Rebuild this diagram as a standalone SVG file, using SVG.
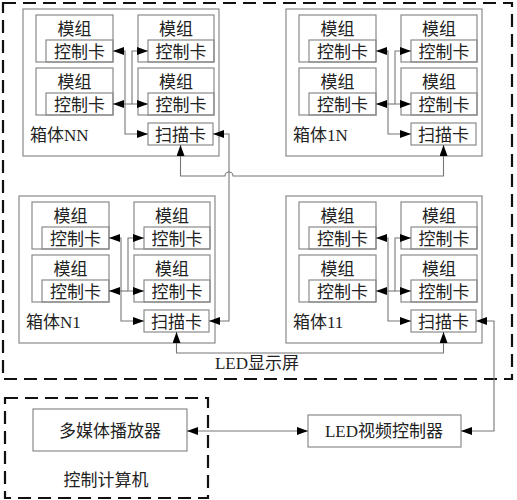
<svg xmlns="http://www.w3.org/2000/svg" width="517" height="500" viewBox="0 0 517 500">
<defs>
<style>
.bg{fill:#fff}
.box{fill:none;stroke:#8a8a8a;stroke-width:1.2}
.dash{fill:none;stroke:#111;stroke-width:2.2;stroke-dasharray:13 7}
.ln{fill:none;stroke:#777;stroke-width:1.1}
.arr{marker-end:url(#ah)}
.arr2{marker-start:url(#ah);marker-end:url(#ah)}
text{font-family:"Liberation Serif","Noto Sans CJK SC",serif;font-size:17px;fill:#222}
.c{text-anchor:middle}
</style>
<marker id="ah" viewBox="0 0 11 8" refX="11" refY="4" markerWidth="11" markerHeight="8" markerUnits="userSpaceOnUse" orient="auto-start-reverse">
<path d="M0,0 L11,4 L0,8 z" fill="#000"/>
</marker>
<g id="cabinet">
<rect class="box" x="23" y="9" width="196" height="147"/>
<rect class="box" x="36" y="15" width="77" height="47"/>
<rect class="box" x="46" y="40" width="67" height="22"/>
<rect class="box" x="138" y="15" width="76" height="47"/>
<rect class="box" x="148" y="40" width="66" height="22"/>
<rect class="box" x="36" y="68" width="77" height="47"/>
<rect class="box" x="46" y="93" width="67" height="22"/>
<rect class="box" x="138" y="68" width="76" height="47"/>
<rect class="box" x="148" y="93" width="66" height="22"/>
<rect class="box" x="148" y="123" width="65" height="22"/>
<text class="c" x="74.5" y="34.5">模组</text>
<text class="c" x="79.5" y="57.5">控制卡</text>
<text class="c" x="176" y="34.5">模组</text>
<text class="c" x="181" y="57.5">控制卡</text>
<text class="c" x="74.5" y="87.5">模组</text>
<text class="c" x="79.5" y="110.5">控制卡</text>
<text class="c" x="176" y="87.5">模组</text>
<text class="c" x="181" y="110.5">控制卡</text>
<text class="c" x="180.5" y="141">扫描卡</text>
<path class="ln arr2" d="M148,134 H125 V51 H113"/>
<path class="ln arr" d="M125,104 H113"/>
<path class="ln arr2" d="M148,51 H132 V104 H148"/>
<path class="ln" d="M125,104 H132"/>
</g>
</defs>

<rect class="bg" x="0" y="0" width="517" height="500"/>

<g id="led-screen">
<rect class="dash" x="3" y="3" width="509" height="376"/>
<text class="c" x="257" y="369">LED显示屏</text>
</g>

<g id="cabinet-NN">
<use href="#cabinet"/>
<text x="30" y="141">箱体NN</text>
</g>
<g id="cabinet-1N" transform="translate(263,0)">
<use href="#cabinet"/>
<text x="30" y="141">箱体1N</text>
</g>
<g id="cabinet-N1" transform="translate(-4,187)">
<use href="#cabinet"/>
<text x="30" y="141">箱体N1</text>
</g>
<g id="cabinet-11" transform="translate(263,187)">
<use href="#cabinet"/>
<text x="30" y="141">箱体11</text>
</g>

<g id="control-computer">
<rect class="dash" x="5" y="398" width="203" height="100"/>
<text class="c" x="106" y="486">控制计算机</text>
</g>
<g id="media-player">
<rect class="box" x="33" y="409" width="154" height="42"/>
<text class="c" x="110" y="437">多媒体播放器</text>
</g>
<g id="led-controller">
<rect class="box" x="308" y="415" width="153" height="32"/>
<text class="c" x="384" y="437">LED视频控制器</text>
</g>

<g id="connectors">
<path class="ln arr2" d="M213,134 H229 V321 H209"/>
<path class="ln arr2" d="M180.5,145 V176 H225 a4,4 0 0 1 8,0 H443.5 V145"/>
<path class="ln arr2" d="M176.5,332 V353 H443.5 V332"/>
<path class="ln arr2" d="M476,321 H494 V431 H461"/>
<path class="ln arr2" d="M187,431 H308"/>
</g>
</svg>
